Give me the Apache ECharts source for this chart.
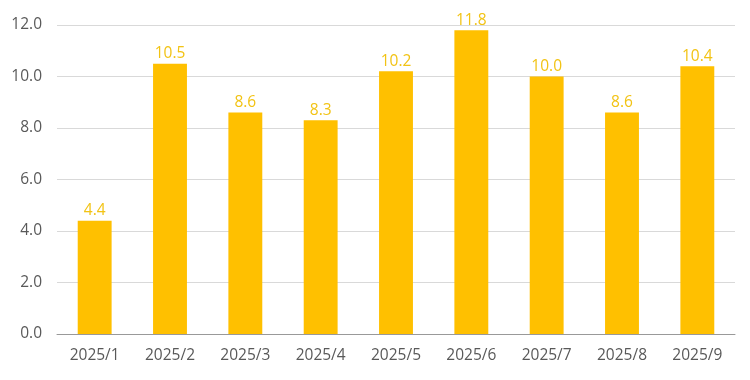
<!DOCTYPE html>
<html><head><meta charset="utf-8">
<script src="https://cdn.jsdelivr.net/npm/echarts@6/dist/echarts.min.js"></script>
<style>html,body{margin:0;padding:0;background:#fff}#c{width:750px;height:380px}</style>
</head><body><div id="c"></div>
<script>
const categories = ['2025/1','2025/2','2025/3','2025/4','2025/5','2025/6','2025/7','2025/8','2025/9'];
const values = [4.4, 10.5, 8.6, 8.3, 10.2, 11.8, 10.0, 8.6, 10.4];
const yTicks = { min: 0, max: 12, interval: 2 };

const chart = echarts.init(document.getElementById('c'), null, {renderer:'canvas'});
const font = '"Open Sans", "Noto Sans", sans-serif';
chart.setOption({
  animation: false,
  grid: { left: 57, right: 15, top: 25, bottom: 46 },
  xAxis: {
    type: 'category', data: categories,
    axisLine: { lineStyle: { color: '#999999', width: 1 } },
    axisTick: { show: false },
    axisLabel: { color: '#595959', fontSize: 15.5, fontFamily: font, margin: 14 }
  },
  yAxis: {
    type: 'value', min: yTicks.min, max: yTicks.max, interval: yTicks.interval,
    axisLine: { show: false }, axisTick: { show: false },
    splitLine: { lineStyle: { color: '#d9d9d9', width: 1 } },
    axisLabel: { color: '#595959', fontSize: 15.5, fontFamily: font, margin: 15,
      formatter: v => v.toFixed(1) }
  },
  series: [{
    type: 'bar', data: values, barWidth: '45%',
    itemStyle: { color: '#FFC000' },
    label: { show: true, position: 'top', distance: 2, color: '#F2C314', fontSize: 15.5, fontFamily: font,
      formatter: p => p.value.toFixed(1) }
  }]
});
</script></body></html>
